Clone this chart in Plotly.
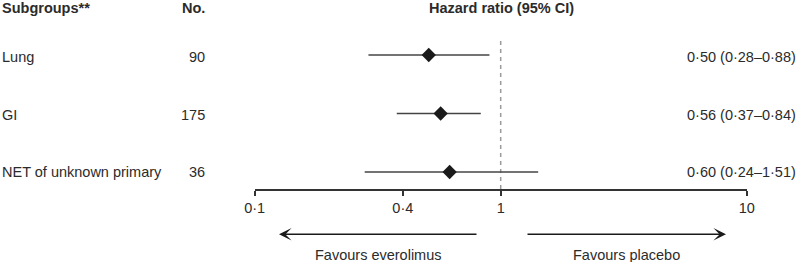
import plotly.graph_objects as go

# ---- data ----
subgroups = ["Lung", "GI", "NET of unknown primary"]
counts = ["90", "175", "36"]
hr = [0.51, 0.57, 0.62]
ci_low = [0.29, 0.378, 0.28]
ci_high = [0.90, 0.83, 1.42]
hr_labels = ["0·50 (0·28–0·88)", "0·56 (0·37–0·84)", "0·60 (0·24–1·51)"]
tick_vals = [0.1, 0.4, 1, 10]
tick_text = ["0·1", "0·4", "1", "10"]
rows = [0, 1, 2]

W, H = 800, 262
FONT = "Liberation Sans, Arial, sans-serif"
FS = 14.5
TXT = "#2b2b2b"

# pixel -> row-axis helpers (layout only)
ROW0, STEP = 55.0, 58.5
def ry(p):
    return (p - ROW0) / STEP
def px(p):
    return p / W

fig = go.Figure()

# reference line at HR = 1
fig.add_trace(go.Scatter(
    x=[1, 1], y=[ry(41), ry(190)], mode="lines",
    line=dict(color="#9a9a9a", width=1.5, dash="4px,4px"),
    hoverinfo="skip", showlegend=False))

# estimates with CI whiskers
fig.add_trace(go.Scatter(
    x=hr, y=rows, mode="markers",
    marker=dict(symbol="diamond", size=11, color="#1a1a1a", line=dict(width=0)),
    error_x=dict(type="data", symmetric=False,
                 array=[h - m for h, m in zip(ci_high, hr)],
                 arrayminus=[m - l for m, l in zip(hr, ci_low)],
                 color="#444444", thickness=1.5, width=0),
    showlegend=False))

ann = []
def text(x, y, s, xanchor="left", bold=False):
    ann.append(dict(x=x, y=y, xref="paper", yref="y", text=f"<b>{s}</b>" if bold else s,
                    showarrow=False, xanchor=xanchor, yanchor="middle",
                    font=dict(family=FONT, size=FS, color=TXT)))

text(0.0, ry(8), "Subgroups**", "left", True)
text(px(207), ry(8), "No.", "right", True)
text(px(501.5), ry(8), "Hazard ratio (95% CI)", "center", True)

label_y = [57, 115, 172]
for i, r in enumerate(rows):
    text(0.0, ry(label_y[i]), subgroups[i], "left")
    text(px(207), ry(label_y[i]), counts[i], "right")
    text(px(798), ry(label_y[i]), hr_labels[i], "right")

text(px(378), ry(255), "Favours everolimus", "center")
text(px(626), ry(255), "Favours placebo", "center")

# arrows
for head, tail in [(279, 478), (726, 526)]:
    ann.append(dict(x=px(head), y=ry(234.3), xref="paper", yref="y",
                    ax=tail - head, ay=0, axref="pixel", ayref="pixel",
                    text="", showarrow=True, arrowhead=3, arrowsize=1.4,
                    arrowwidth=1.5, arrowcolor="#1a1a1a", standoff=0, startstandoff=0))

fig.update_layout(
    template="none",
    width=W, height=H,
    margin=dict(l=0, r=0, t=0, b=0, pad=0, autoexpand=False),
    paper_bgcolor="white", plot_bgcolor="white",
    annotations=ann,
    xaxis=dict(type="log", range=[-1, 1],
               domain=[254.7 / W, 746.7 / W],
               anchor="free", position=1 - 190 / H, automargin=False,
               showline=True, linecolor="#333333", linewidth=1.5,
               ticks="outside", ticklen=5, tickwidth=1.5, tickcolor="#333333",
               tickvals=tick_vals, ticktext=tick_text,
               tickfont=dict(family=FONT, size=FS, color=TXT),
               showgrid=False, zeroline=False, fixedrange=True),
    yaxis=dict(range=[ry(H), ry(0)], domain=[0, 1], visible=False, automargin=False,
               showgrid=False, zeroline=False, fixedrange=True),
)

fig.write_html("out.html", config={"displayModeBar": False},
               post_script="document.body.style.margin='0';document.body.style.padding='0';document.documentElement.style.overflow='hidden';")
